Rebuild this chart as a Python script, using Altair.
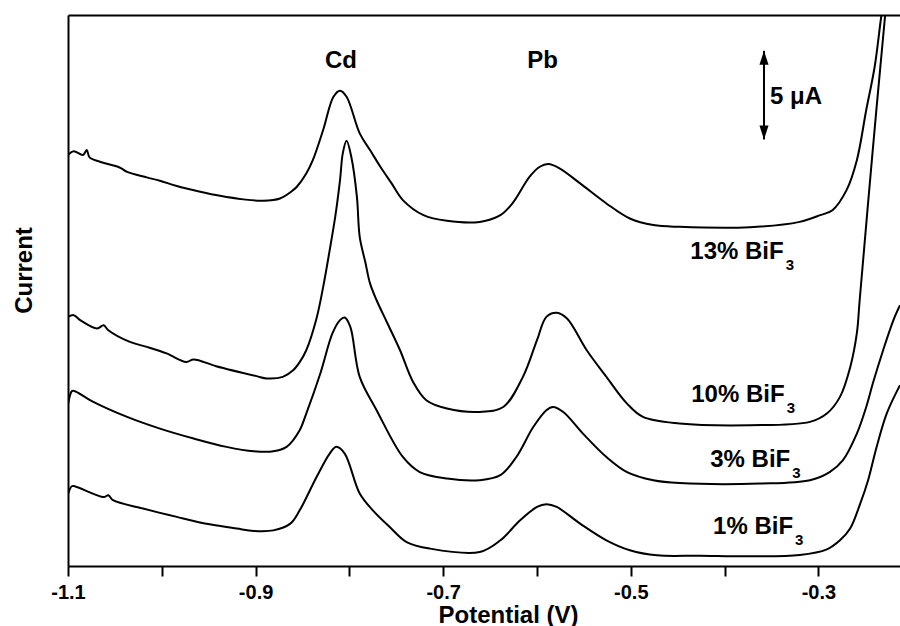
import altair as alt
import pandas as pd

# ---- data (potential in V, current in microampere, curves offset) ----
v13 = [-1.100,-1.094,-1.084,-1.080,-1.077,-1.066,-1.045,-1.037,-1.016,-1.002,-0.984,-0.959,-0.938,-0.913,-0.892,-0.874,-0.860,-0.856,-0.846,-0.839,-0.828,-0.817,-0.810,-0.803,-0.789,-0.778,-0.767,-0.755,-0.743,-0.721,-0.696,-0.661,-0.639,-0.626,-0.608,-0.597,-0.588,-0.576,-0.554,-0.526,-0.501,-0.476,-0.448,-0.373,-0.320,-0.298,-0.285,-0.270,-0.259,-0.249,-0.240,-0.233,-0.230]
i13 = [23.18,23.40,23.18,23.46,23.05,22.80,22.48,22.23,21.92,21.73,21.43,21.11,20.88,20.68,20.60,20.73,21.20,21.39,22.14,22.89,24.59,26.47,26.81,26.47,24.40,23.46,22.52,21.58,20.64,19.79,19.47,19.41,19.79,20.47,21.95,22.52,22.67,22.43,21.58,20.45,19.60,19.23,19.13,19.11,19.41,19.79,20.07,21.20,22.89,25.72,28.16,30.98,31.92]

v10 = [-1.100,-1.094,-1.087,-1.069,-1.062,-1.057,-1.034,-1.016,-0.995,-0.974,-0.966,-0.942,-0.899,-0.888,-0.871,-0.860,-0.853,-0.846,-0.835,-0.828,-0.821,-0.815,-0.810,-0.807,-0.803,-0.798,-0.792,-0.789,-0.783,-0.778,-0.771,-0.760,-0.746,-0.732,-0.718,-0.696,-0.661,-0.636,-0.615,-0.600,-0.590,-0.579,-0.568,-0.547,-0.526,-0.504,-0.487,-0.448,-0.373,-0.309,-0.291,-0.277,-0.266,-0.259,-0.256,-0.243,-0.229,-0.227]
i10 = [14.05,14.15,13.87,13.40,13.58,13.30,12.64,12.36,11.99,11.51,11.65,11.27,10.71,10.58,10.67,11.04,11.50,12.17,13.98,15.73,17.82,19.73,21.76,23.29,23.98,23.08,20.82,18.57,17.13,15.94,14.99,13.75,12.17,10.37,9.35,8.88,8.69,8.97,10.67,12.74,14.05,14.28,13.96,12.17,10.67,9.16,8.41,8.04,7.94,8.13,8.60,9.54,11.23,13.13,14.99,22.89,30.98,31.92]

v3 = [-1.100,-1.096,-1.094,-1.073,-1.037,-1.002,-0.966,-0.931,-0.902,-0.881,-0.867,-0.853,-0.846,-0.831,-0.818,-0.810,-0.805,-0.799,-0.789,-0.771,-0.743,-0.725,-0.696,-0.661,-0.639,-0.622,-0.604,-0.590,-0.583,-0.572,-0.551,-0.526,-0.504,-0.476,-0.448,-0.362,-0.309,-0.288,-0.274,-0.259,-0.249,-0.242,-0.231,-0.220,-0.213]
i3 = [9.13,9.86,9.89,9.26,8.41,7.75,7.19,6.72,6.47,6.47,6.72,7.66,8.60,10.86,13.13,13.87,14.02,13.49,10.67,8.79,6.15,5.30,4.93,4.84,5.12,6.15,7.84,8.79,8.97,8.69,7.47,6.15,5.30,4.84,4.68,4.65,4.84,5.30,5.96,7.47,8.97,10.29,12.17,13.87,14.71]

v1 = [-1.100,-1.096,-1.093,-1.062,-1.057,-1.052,-1.020,-0.984,-0.949,-0.920,-0.902,-0.881,-0.863,-0.853,-0.835,-0.821,-0.814,-0.805,-0.789,-0.775,-0.757,-0.739,-0.714,-0.661,-0.639,-0.618,-0.600,-0.590,-0.579,-0.554,-0.526,-0.501,-0.472,-0.426,-0.373,-0.320,-0.291,-0.277,-0.266,-0.256,-0.247,-0.238,-0.227,-0.213]
i1 = [4.05,4.50,4.50,3.89,3.99,3.71,3.24,2.77,2.35,2.11,1.98,2.01,2.39,3.14,5.02,6.34,6.72,6.34,4.09,3.14,2.20,1.35,0.98,0.79,1.45,2.58,3.33,3.48,3.33,2.39,1.45,0.89,0.60,0.58,0.55,0.62,0.94,1.45,2.13,3.43,4.84,6.70,8.62,10.20]

series_names = ["13% BiF3", "10% BiF3", "3% BiF3", "1% BiF3"]
label_main = ["13% BiF", "10% BiF", "3% BiF", "1% BiF"]
label_sub = ["3", "3", "3", "3"]
label_v = [-0.337, -0.336, -0.330, -0.327]
label_i = [17.31, 9.26, 5.59, 1.83]

peak_names = ["Cd", "Pb"]
peak_v = [-0.809, -0.594]
peak_i = [28.1, 28.1]

scale_bar_v = [-0.358]
scale_bar_lo = [24.06]
scale_bar_hi = [29.06]
scale_bar_text = ["5 \u03bcA"]
scale_bar_text_v = [-0.3516]
scale_bar_text_i = [26.45]

tick_values = [-1.1, -1.0, -0.9, -0.8, -0.7, -0.6, -0.5, -0.4, -0.3]
x_domain = [-1.1, -0.213]
y_domain = [0, 31.08]

# ---- build tables ----
rows = []
for name, vs, cs in zip(series_names, [v13, v10, v3, v1], [i13, i10, i3, i1]):
    for v, c in zip(vs, cs):
        rows.append({"series": name, "potential": v, "current": c})
curves_df = pd.DataFrame(rows)
labels_df = pd.DataFrame({"main": label_main, "sub": label_sub, "potential": label_v, "current": label_i})
peaks_df = pd.DataFrame({"name": peak_names, "potential": peak_v, "current": peak_i})
bar_df = pd.DataFrame({"potential": scale_bar_v, "lo": scale_bar_lo, "hi": scale_bar_hi})
bar_text_df = pd.DataFrame({"t": scale_bar_text, "potential": scale_bar_text_v, "current": scale_bar_text_i})

FONT = "Liberation Sans"
xs = alt.Scale(domain=x_domain, nice=False, zero=False)
ys = alt.Scale(domain=y_domain, nice=False, zero=False)

x_axis = alt.Axis(
    values=tick_values,
    labelExpr="round(datum.value*10) % 2 != 0 ? '-' + format(abs(datum.value), '.1f') : ''",
    title="Potential (V)",
    titleX=440, titleY=37,
    grid=False, tickSize=10, tickWidth=2, domainWidth=2,
    labelFlush=False, labelPadding=6, labelFontSize=20,
)
y_axis = alt.Axis(
    title="Current", ticks=False, labels=False, grid=False, domainWidth=2,
    titleX=-32, titleY=255,
)

curves = alt.Chart(curves_df).mark_line(
    color="black", strokeWidth=2, interpolate="catmull-rom", clip=True
).encode(
    x=alt.X("potential:Q", scale=xs, axis=x_axis),
    y=alt.Y("current:Q", scale=ys, axis=y_axis),
    detail="series:N",
)

peaks = alt.Chart(peaks_df).mark_text(
    font=FONT, fontSize=24, fontWeight="bold", align="center", baseline="alphabetic", color="black"
).encode(
    x=alt.X("potential:Q", scale=xs,
            axis=alt.Axis(orient="top", labels=False, ticks=False, title=None, grid=False, domainWidth=2)),
    y=alt.Y("current:Q", scale=ys, axis=None),
    text="name:N",
)

labels = alt.Chart(labels_df).mark_text(
    font=FONT, fontSize=24, fontWeight="bold", align="right", baseline="alphabetic", color="black"
).encode(
    x=alt.X("potential:Q", scale=xs, axis=None),
    y=alt.Y("current:Q", scale=ys, axis=None),
    text="main:N",
)

subs = alt.Chart(labels_df).mark_text(
    font=FONT, fontSize=15, fontWeight="bold", align="left", baseline="alphabetic", dx=2, dy=11, color="black"
).encode(
    x=alt.X("potential:Q", scale=xs, axis=None),
    y=alt.Y("current:Q", scale=ys, axis=None),
    text="sub:N",
)

bar = alt.Chart(bar_df).mark_rule(color="black", strokeWidth=2).encode(
    x=alt.X("potential:Q", scale=xs, axis=None),
    y=alt.Y("lo:Q", scale=ys, axis=None),
    y2="hi:Q",
)
head_up = alt.Chart(bar_df).mark_point(
    shape="M0,0L0.65,2L-0.65,2Z", size=196, filled=True, color="black", opacity=1
).encode(
    x=alt.X("potential:Q", scale=xs, axis=None),
    y=alt.Y("hi:Q", scale=ys, axis=None),
)
head_down = alt.Chart(bar_df).mark_point(
    shape="M0,0L0.65,-2L-0.65,-2Z", size=196, filled=True, color="black", opacity=1
).encode(
    x=alt.X("potential:Q", scale=xs, axis=None),
    y=alt.Y("lo:Q", scale=ys, axis=None),
)
bar_text = alt.Chart(bar_text_df).mark_text(
    font=FONT, fontSize=24, fontWeight="bold", align="left", baseline="middle", color="black"
).encode(
    x=alt.X("potential:Q", scale=xs, axis=None),
    y=alt.Y("current:Q", scale=ys, axis=None),
    text="t:N",
)

chart = alt.layer(curves, peaks, labels, subs, bar, head_up, head_down, bar_text).resolve_axis(
    x="independent", y="independent"
).properties(
    width=832, height=551,
    autosize=alt.AutoSizeParams(type="none"),
    padding={"left": 68, "top": 15, "right": 0, "bottom": 60},
    background="white",
).configure_view(stroke=None).configure_axis(
    labelFont=FONT, titleFont=FONT, labelFontWeight="bold", titleFontWeight="bold",
    labelColor="black", titleColor="black", domainColor="black", tickColor="black",
    titleFontSize=24,
)

chart.save("out.html", embed_options={"renderer": "svg", "actions": False})
